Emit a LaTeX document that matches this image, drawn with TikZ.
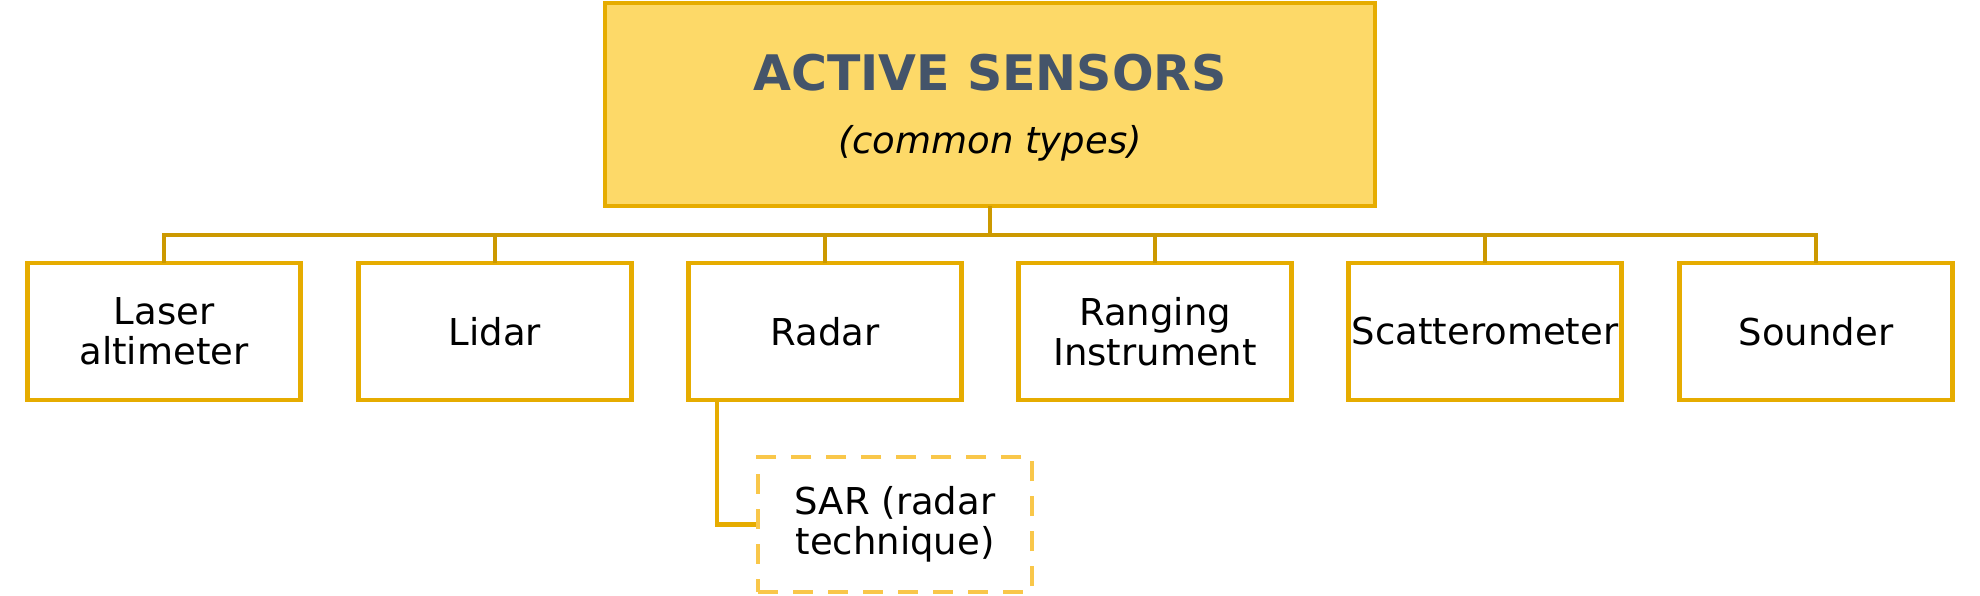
\documentclass[tikz,border=0pt]{standalone}
\usepackage{fontspec}
\setmainfont{DejaVu Sans}
\definecolor{boxborder}{RGB}{230,172,0}
\definecolor{topfill}{RGB}{253,217,104}
\definecolor{busline}{RGB}{204,153,0}
\definecolor{sarborder}{RGB}{249,199,74}
\definecolor{titlecol}{RGB}{68,84,106}
\begin{document}
\begin{tikzpicture}[x=1pt,y=-1pt,
  leaf/.style={draw=boxborder, line width=4.5pt, fill=white, minimum width=273pt, minimum height=137pt, inner sep=0pt, align=center, font=\fontsize{37}{40}\selectfont},
  topbox/.style={draw=boxborder, line width=4.5pt, fill=topfill, minimum width=770pt, minimum height=203pt, inner sep=0pt},
  sarbox/.style={draw=sarborder, line width=4.5pt, dash pattern=on 20pt off 15pt, fill=white, minimum width=274pt, minimum height=135pt, inner sep=0pt, align=center, font=\fontsize{37}{40}\selectfont},
  conn/.style={draw=busline, line width=4.5pt, line cap=rect},
  connb/.style={draw=boxborder, line width=4.5pt}]
\useasboundingbox (0,0) rectangle (1980,596);
\node[topbox] (top) at (990,104.5) {};
\node[font=\fontsize{49}{50}\selectfont\bfseries, text=titlecol] (title) at (990,73) {ACTIVE SENSORS};
\node[font=\fontsize{37}{40}\selectfont\itshape] (subtitle) at (990,143) {(common types)};
\coordinate (busy) at (0,235);
\node[leaf] (n1) at (164,331.5) {Laser\\altimeter};
\node[leaf] (n2) at (495,331.5) {Lidar};
\node[leaf] (n3) at (825,331.5) {Radar};
\node[leaf] (n4) at (1155,331.5) {Ranging\\Instrument};
\node[leaf] (n5) at (1485,331.5) {Scatterometer};
\node[leaf] (n6) at (1816,331.5) {Sounder};
\node[sarbox] (sar) at (895,524.5) {SAR (radar\\technique)};
\draw[conn] (top.south) -- (top.south |- busy);
\draw[conn] (n1.north |- busy) -- (n6.north |- busy);
\foreach \n in {n1,n2,n3,n4,n5,n6} {
  \draw[conn] (\n.north |- busy) -- (\n.north);
}
\coordinate (radarout) at ([xshift=-108pt]n3.south);
\draw[connb] (radarout) |- (sar.west);
\end{tikzpicture}
\end{document}
